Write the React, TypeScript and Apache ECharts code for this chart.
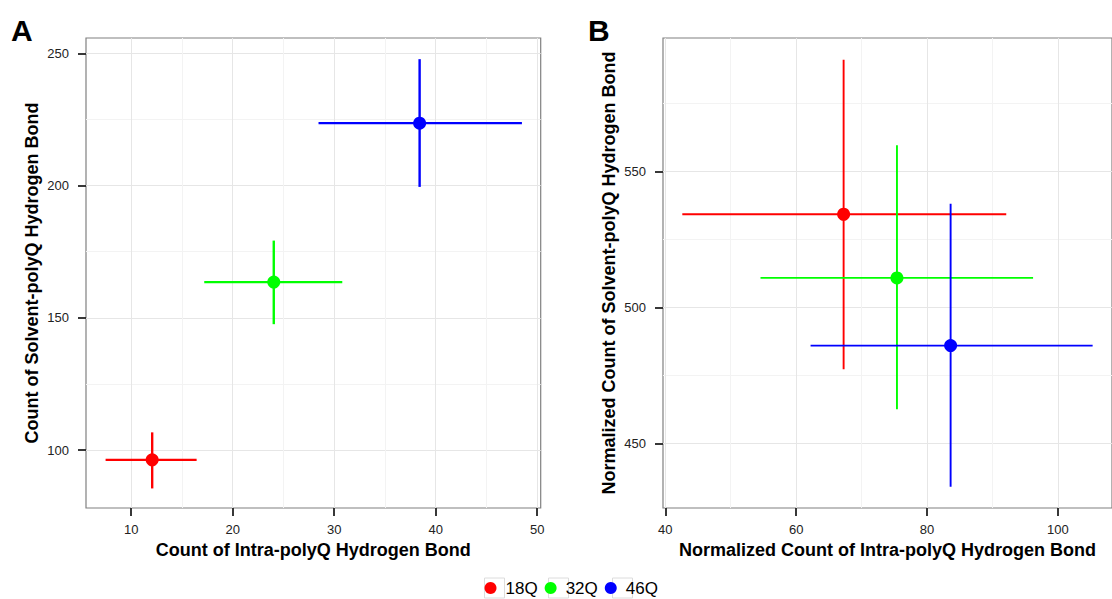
import React, { useEffect, useRef } from "react";
import * as echarts from "echarts";

const groups = ["18Q", "32Q", "46Q"];
const colors = ["#FF0000", "#00FF00", "#0000FF"];

// Panel A
const aIntraMean = [12.07, 24.05, 38.42];
const aIntraLow = [7.48, 17.2, 28.46];
const aIntraHigh = [16.45, 30.8, 48.5];
const aSolventMean = [96.3, 163.5, 223.6];
const aSolventLow = [85.5, 147.6, 199.5];
const aSolventHigh = [106.7, 179.2, 247.8];

// Panel B
const bIntraMean = [67.25, 75.4, 83.6];
const bIntraLow = [42.6, 54.55, 62.2];
const bIntraHigh = [92.1, 96.2, 105.3];
const bSolventMean = [534.2, 510.8, 485.9];
const bSolventLow = [477.2, 462.5, 434.0];
const bSolventHigh = [591.0, 559.6, 538.1];

const aXTicks = [10, 20, 30, 40, 50];
const aYTicks = [100, 150, 200, 250];
const bXTicks = [40, 60, 80, 100];
const bYTicks = [450, 500, 550];

const FONT = "Arial, 'Liberation Sans', Helvetica, sans-serif";

function valueAxis(opts: any) {
  const { gridIndex, min, max, splitNumber, ticks, name, nameGap, isY } = opts;
  return {
    type: "value",
    gridIndex,
    min,
    max,
    splitNumber,
    name,
    nameLocation: "middle",
    nameGap,
    nameTextStyle: { fontFamily: FONT, fontSize: 18, fontWeight: "bold", color: "#000" },
    axisLine: { show: false },
    axisTick: {
      show: true,
      length: 8,
      customValues: ticks,
      lineStyle: { color: "#222", width: 1.8 },
    },
    axisLabel: {
      customValues: ticks,
      margin: isY ? 17 : 15,
      fontFamily: FONT,
      fontSize: 13,
      color: "#222",
    },
    splitLine: { show: true, lineStyle: { color: "#e6e6e6", width: 1 } },
    minorTick: { show: false, splitNumber: 2 },
    minorSplitLine: { show: true, lineStyle: { color: "#f3f3f3", width: 1 } },
  };
}

function errorSeries(panel: number, xm: number[], xl: number[], xh: number[], ym: number[], yl: number[], yh: number[], lw: number) {
  const out: any[] = [];
  groups.forEach((g, i) => {
    out.push({
      type: "custom",
      name: g,
      xAxisIndex: panel,
      yAxisIndex: panel,
      itemStyle: { color: colors[i] },
      encode: { x: [0, 2, 3], y: [1, 4, 5] },
      data: [[xm[i], ym[i], xl[i], xh[i], yl[i], yh[i]]],
      renderItem: (params: any, api: any) => {
        const l = api.coord([api.value(2), api.value(1)]);
        const r = api.coord([api.value(3), api.value(1)]);
        const b = api.coord([api.value(0), api.value(4)]);
        const t = api.coord([api.value(0), api.value(5)]);
        return {
          type: "group",
          children: [
            { type: "line", shape: { x1: l[0], y1: l[1], x2: r[0], y2: r[1] }, style: { stroke: colors[i], lineWidth: lw } },
            { type: "line", shape: { x1: b[0], y1: b[1], x2: t[0], y2: t[1] }, style: { stroke: colors[i], lineWidth: lw } },
          ],
        };
      },
      z: 2,
    });
  });
  groups.forEach((g, i) => {
    out.push({
      type: "scatter",
      name: g,
      xAxisIndex: panel,
      yAxisIndex: panel,
      symbol: "circle",
      symbolSize: 13,
      itemStyle: { color: colors[i], opacity: 1 },
      data: [[xm[i], ym[i]]],
      z: 3,
    });
  });
  return out;
}

export default function App() {
  const ref = useRef<HTMLDivElement>(null);
  useEffect(() => {
    if (!ref.current) return;
    const chart = echarts.init(ref.current, null, { renderer: "svg" });
    const option: any = {
      animation: false,
      backgroundColor: "#ffffff",
      grid: [
        { left: 86, top: 38, width: 454.7, height: 470, show: true, borderColor: "#808080", borderWidth: 1.2, backgroundColor: "#fff" },
        { left: 663, top: 38, width: 454, height: 470, show: true, borderColor: "#808080", borderWidth: 1.2, backgroundColor: "#fff" },
      ],
      xAxis: [
        valueAxis({ gridIndex: 0, min: 5.55, max: 50.35, splitNumber: 5, ticks: aXTicks, name: "Count of Intra-polyQ Hydrogen Bond", nameGap: 32, isY: false }),
        valueAxis({ gridIndex: 1, min: 39.65, max: 108.26, splitNumber: 3, ticks: bXTicks, name: "Normalized Count of Intra-polyQ Hydrogen Bond", nameGap: 32, isY: false }),
      ],
      yAxis: [
        valueAxis({ gridIndex: 0, min: 78.1, max: 255.8, splitNumber: 4, ticks: aYTicks, name: "Count of Solvent-polyQ Hydrogen Bond", nameGap: 45, isY: true }),
        valueAxis({ gridIndex: 1, min: 426.2, max: 599, splitNumber: 4, ticks: bYTicks, name: "Normalized Count of Solvent-polyQ Hydrogen Bond", nameGap: 45, isY: true }),
      ],
      legend: {
        data: groups.map((g) => ({ name: g, icon: "circle" })),
        left: 484.5,
        top: 578,
        padding: 0,
        itemWidth: 20,
        itemHeight: 12,
        itemGap: 7,
        selectedMode: false,
        textStyle: { fontFamily: FONT, fontSize: 17, lineHeight: 20, color: "#000" },
        z: 10,
      },
      graphic: [
        { type: "text", left: 11, top: 15, style: { text: "A", font: `bold 30px ${FONT}`, fill: "#000" } },
        { type: "text", left: 588, top: 15, style: { text: "B", font: `bold 30px ${FONT}`, fill: "#000" } },
        ...[484.5, 548.5, 612.5].map((x) => ({
          type: "rect",
          shape: { x, y: 578, width: 20, height: 20 },
          style: { fill: "#fff", stroke: "#dcdcdc", lineWidth: 1 },
          z: 1,
        })),
      ],
      series: [
        ...errorSeries(0, aIntraMean, aIntraLow, aIntraHigh, aSolventMean, aSolventLow, aSolventHigh, 2.4),
        ...errorSeries(1, bIntraMean, bIntraLow, bIntraHigh, bSolventMean, bSolventLow, bSolventHigh, 1.9),
      ],
    };
    chart.setOption(option);
    return () => chart.dispose();
  }, []);
  return (
    <div
      ref={ref}
      style={{ position: "absolute", left: 0, top: 0, width: 1112, height: 599, overflow: "hidden" }}
    />
  );
}
